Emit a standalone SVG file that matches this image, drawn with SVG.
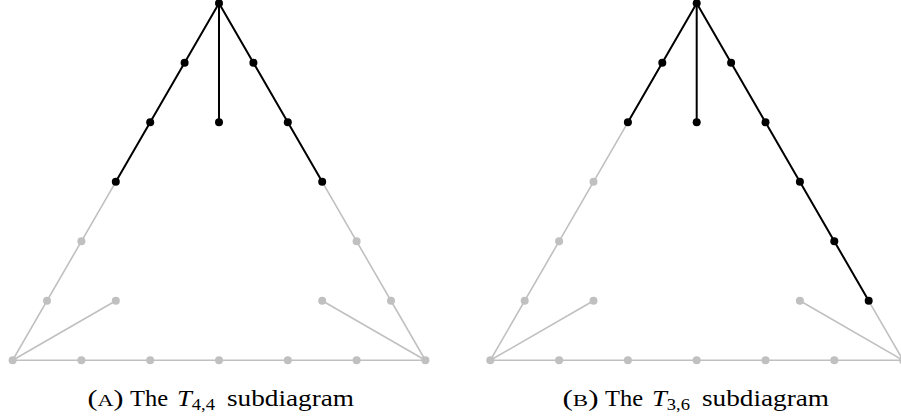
<svg xmlns="http://www.w3.org/2000/svg" width="901" height="419" viewBox="0 0 901 419">
<style>
.g{stroke:#c0c0c0;stroke-width:1.6;fill:none;stroke-linecap:round}
.k{stroke:#000;stroke-width:2;fill:none;stroke-linecap:round}
.ng{fill:#c0c0c0}
.nk{fill:#000}
text{font-family:"Liberation Serif","Times New Roman",serif;font-size:23px;fill:#000}
.sc{font-size:17px}
.it{font-style:italic}
.sub{font-size:16px}
</style>
<g id="connectors">
<polyline class="g" points="115.8,181.8 12.6,360.3 425.4,360.3 322.2,181.8"/>
<line class="g" x1="12.6" y1="360.3" x2="115.8" y2="300.8"/>
<line class="g" x1="425.4" y1="360.3" x2="322.2" y2="300.8"/>
<polyline class="k" points="115.8,181.8 219,3.3 322.2,181.8"/>
<line class="k" x1="219" y1="3.3" x2="219" y2="122.3"/>
<polyline class="g" points="627.9,122.3 490.3,360.3 903.1,360.3 868.7,300.8"/>
<line class="g" x1="490.3" y1="360.3" x2="593.5" y2="300.8"/>
<line class="g" x1="903.1" y1="360.3" x2="799.9" y2="300.8"/>
<polyline class="k" points="627.9,122.3 696.7,3.3 868.7,300.8"/>
<line class="k" x1="696.7" y1="3.3" x2="696.7" y2="122.3"/>
</g>
<g id="diagramA-nodes">
<g id="a-apex"><circle class="nk" cx="219" cy="3.3" r="4"/></g>
<g id="a-l1"><circle class="nk" cx="184.6" cy="62.8" r="4"/></g>
<g id="a-l2"><circle class="nk" cx="150.2" cy="122.3" r="4"/></g>
<g id="a-l3"><circle class="nk" cx="115.8" cy="181.8" r="4"/></g>
<g id="a-l4"><circle class="ng" cx="81.4" cy="241.3" r="4"/></g>
<g id="a-l5"><circle class="ng" cx="47" cy="300.8" r="4"/></g>
<g id="a-bl"><circle class="ng" cx="12.6" cy="360.3" r="4"/></g>
<g id="a-r1"><circle class="nk" cx="253.4" cy="62.8" r="4"/></g>
<g id="a-r2"><circle class="nk" cx="287.8" cy="122.3" r="4"/></g>
<g id="a-r3"><circle class="nk" cx="322.2" cy="181.8" r="4"/></g>
<g id="a-r4"><circle class="ng" cx="356.6" cy="241.3" r="4"/></g>
<g id="a-r5"><circle class="ng" cx="391" cy="300.8" r="4"/></g>
<g id="a-br"><circle class="ng" cx="425.4" cy="360.3" r="4"/></g>
<g id="a-m"><circle class="nk" cx="219" cy="122.3" r="4"/></g>
<g id="a-b1"><circle class="ng" cx="81.4" cy="360.3" r="4"/></g>
<g id="a-b2"><circle class="ng" cx="150.2" cy="360.3" r="4"/></g>
<g id="a-b3"><circle class="ng" cx="219" cy="360.3" r="4"/></g>
<g id="a-b4"><circle class="ng" cx="287.8" cy="360.3" r="4"/></g>
<g id="a-b5"><circle class="ng" cx="356.6" cy="360.3" r="4"/></g>
<g id="a-il"><circle class="ng" cx="115.8" cy="300.8" r="4"/></g>
<g id="a-ir"><circle class="ng" cx="322.2" cy="300.8" r="4"/></g>
</g>
<g id="diagramB-nodes">
<g id="b-apex"><circle class="nk" cx="696.7" cy="3.3" r="4"/></g>
<g id="b-l1"><circle class="nk" cx="662.3" cy="62.8" r="4"/></g>
<g id="b-l2"><circle class="nk" cx="627.9" cy="122.3" r="4"/></g>
<g id="b-l3"><circle class="ng" cx="593.5" cy="181.8" r="4"/></g>
<g id="b-l4"><circle class="ng" cx="559.1" cy="241.3" r="4"/></g>
<g id="b-l5"><circle class="ng" cx="524.7" cy="300.8" r="4"/></g>
<g id="b-bl"><circle class="ng" cx="490.3" cy="360.3" r="4"/></g>
<g id="b-r1"><circle class="nk" cx="731.1" cy="62.8" r="4"/></g>
<g id="b-r2"><circle class="nk" cx="765.5" cy="122.3" r="4"/></g>
<g id="b-r3"><circle class="nk" cx="799.9" cy="181.8" r="4"/></g>
<g id="b-r4"><circle class="nk" cx="834.3" cy="241.3" r="4"/></g>
<g id="b-r5"><circle class="nk" cx="868.7" cy="300.8" r="4"/></g>
<g id="b-br"><circle class="ng" cx="903.1" cy="360.3" r="4"/></g>
<g id="b-m"><circle class="nk" cx="696.7" cy="122.3" r="4"/></g>
<g id="b-b1"><circle class="ng" cx="559.1" cy="360.3" r="4"/></g>
<g id="b-b2"><circle class="ng" cx="627.9" cy="360.3" r="4"/></g>
<g id="b-b3"><circle class="ng" cx="696.7" cy="360.3" r="4"/></g>
<g id="b-b4"><circle class="ng" cx="765.5" cy="360.3" r="4"/></g>
<g id="b-b5"><circle class="ng" cx="834.3" cy="360.3" r="4"/></g>
<g id="b-il"><circle class="ng" cx="593.5" cy="300.8" r="4"/></g>
<g id="b-ir"><circle class="ng" cx="799.9" cy="300.8" r="4"/></g>
</g>
<g id="captions">
<text x="87.5" y="406" textLength="36" lengthAdjust="spacingAndGlyphs">(<tspan class="sc">A</tspan>)</text>
<text x="130" y="406" textLength="38" lengthAdjust="spacingAndGlyphs">The</text>
<text x="177" y="406" textLength="38" lengthAdjust="spacingAndGlyphs"><tspan class="it">T</tspan><tspan class="sub" dy="3.5">4,4</tspan></text>
<text x="227" y="406" textLength="127" lengthAdjust="spacingAndGlyphs">subdiagram</text>
<text x="562.5" y="406" textLength="36" lengthAdjust="spacingAndGlyphs">(<tspan class="sc">B</tspan>)</text>
<text x="605" y="406" textLength="38" lengthAdjust="spacingAndGlyphs">The</text>
<text x="652" y="406" textLength="38" lengthAdjust="spacingAndGlyphs"><tspan class="it">T</tspan><tspan class="sub" dy="3.5">3,6</tspan></text>
<text x="702" y="406" textLength="127" lengthAdjust="spacingAndGlyphs">subdiagram</text>
</g>
</svg>
